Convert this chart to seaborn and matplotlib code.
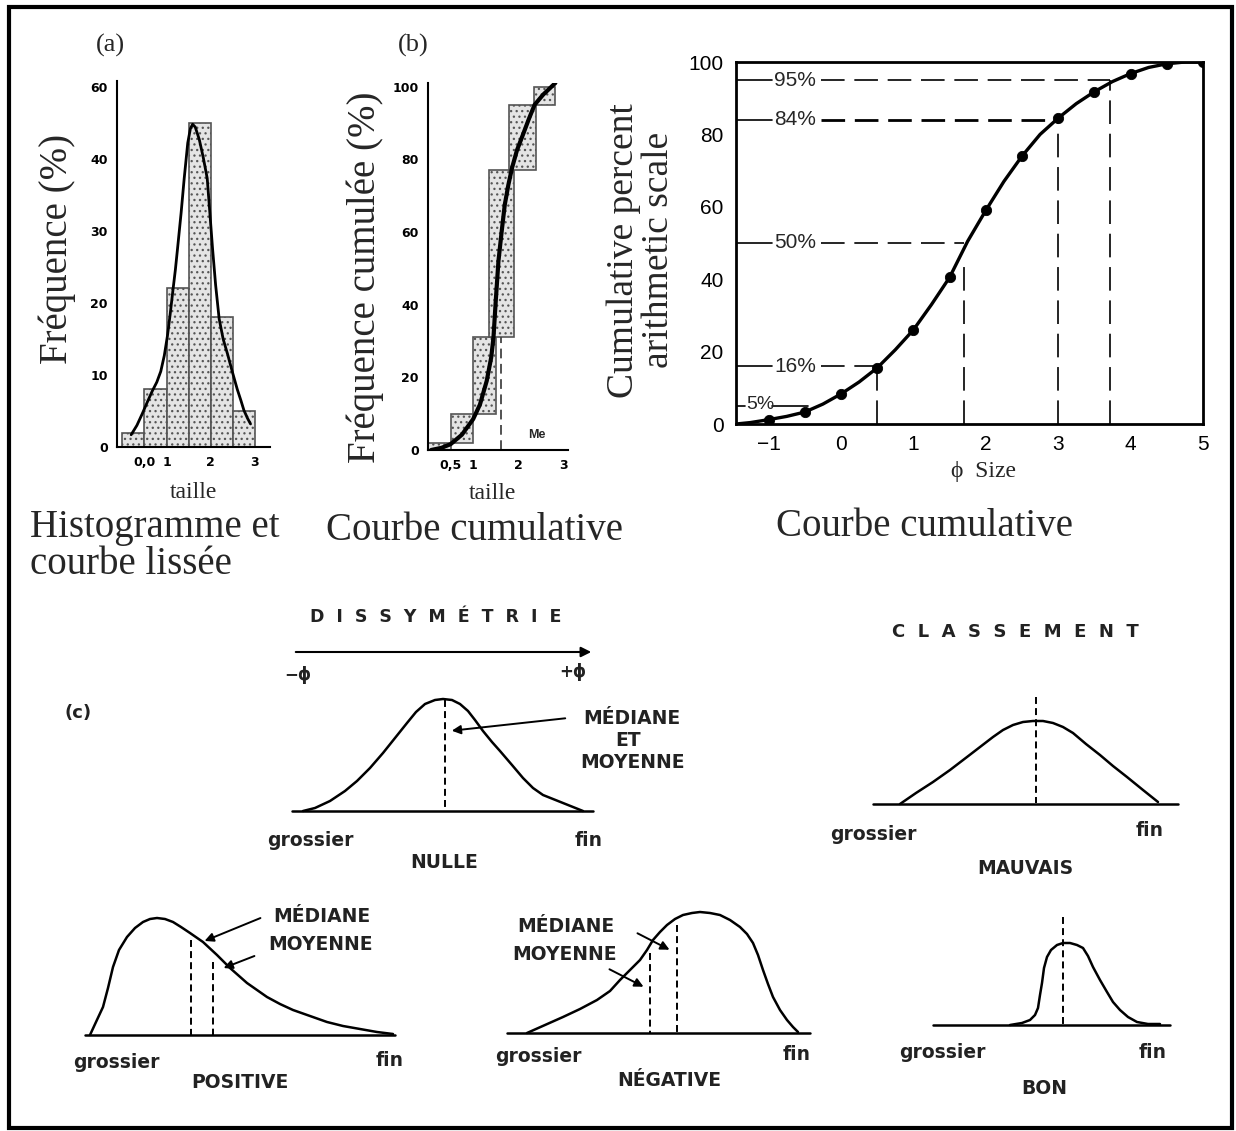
import matplotlib
matplotlib.use("Agg")
import matplotlib.pyplot as plt
from matplotlib.patches import Rectangle
import seaborn as sns
import numpy as np

# ---------------- data ----------------
# (a) histogram + smoothed curve
a_edges = [0, 0.5, 1, 1.5, 2, 2.5, 3]
a_mid = [0.25, 0.75, 1.25, 1.75, 2.25, 2.75]
a_freq = [2, 8, 22, 45, 18, 5]
a_smooth_x = [0.2, 0.33, 0.45, 0.57, 0.68, 0.78, 0.87, 0.95, 1.02, 1.08, 1.14,
              1.2, 1.25, 1.33, 1.4, 1.48, 1.54, 1.59, 1.65, 1.74, 1.83, 1.92,
              1.98, 2.04, 2.11, 2.19, 2.28, 2.38, 2.49, 2.6, 2.68, 2.75, 2.83, 2.9]
a_smooth_y = [1.7, 3.0, 4.6, 6.3, 7.8, 9.0, 10.5, 12.7, 15.4, 18.3, 21.5,
              24.6, 27.6, 32.5, 37.3, 42.2, 44.2, 44.8, 44.4, 42.7, 40.2, 37.3,
              32.5, 27.6, 22.5, 17.8, 15.0, 12.9, 10.4, 8.0, 6.5, 5.1, 4.0, 3.2]
a_ticks = [0.5, 1, 2, 3]
a_ticklabels = ["0,0", "1", "2", "3"]
a_yticks = [0, 10, 20, 30, 40, 50]
a_yticklabels = ["0", "10", "20", "30", "40", "60"]

# (b) cumulative boxes + curve
b_left = [0, 0.5, 1.0, 1.35, 1.8, 2.35]
b_right = [0.5, 1.0, 1.5, 1.9, 2.4, 2.82]
b_low = [0, 2, 10, 31, 77, 95]
b_high = [2, 10, 31, 77, 95, 100]
b_curve_x = [0.07, 0.3, 0.5, 0.75, 1.0, 1.15, 1.3, 1.4, 1.45, 1.5, 1.56, 1.63,
             1.7, 1.78, 1.86, 1.97, 2.1, 2.23, 2.36, 2.55, 2.82]
b_curve_y = [0, 0.6, 1.6, 4.2, 8.5, 12.5, 19, 25.5, 31, 41, 52, 60,
             67.5, 73, 77.6, 82.5, 86.7, 91, 95, 97.8, 101]
b_median = 1.62
b_median_top = 31
b_xticks = [0.5, 1, 1.5, 2, 2.5, 3]
b_xticklabels = ["0,5", "1", "", "2", "", "3"]

# right: cumulative percent vs phi size
phi_x = [-1, -0.5, 0, 0.5, 1, 1.5, 2, 2.5, 3, 3.5, 4, 4.5, 5]
cum_pct = [1.2, 3.3, 8.3, 15.5, 26, 40.5, 59, 74, 84.5, 91.8, 96.8, 99.5, 100]
# the drawn curve, read between the plotted points as well
curve_x = [-1.45, -1.25, -1, -0.75, -0.5, -0.25, 0, 0.25, 0.5, 0.75, 1, 1.25,
           1.5, 1.75, 2, 2.25, 2.5, 2.75, 3, 3.25, 3.5, 3.75, 4, 4.25, 4.5,
           4.75, 5]
curve_y = [0, 0.4, 1.2, 2.1, 3.3, 5.5, 8.3, 11.6, 15.5, 20.5, 26, 33,
           40.5, 50.5, 59, 67, 74, 80, 84.5, 88.5, 91.8, 94.6, 96.8, 98.5, 99.5,
           100, 100]
pct_level = [95, 84, 50, 16, 5]
pct_text = ["95%", "84%", "50%", "16%", "5%"]
pct_phi = [3.72, 3.0, 1.7, 0.5, -0.45]
pct_vtop = [95, 84, 45, 16, None]

# (c) schematic curves (picture pixel coordinates)
nulle_x = [303, 315, 330, 345, 357, 370, 383, 395, 407, 416, 425, 435, 443,
           452, 460, 468, 475, 483, 492, 500, 512, 523, 533, 543, 553, 563, 573, 583]
nulle_y = [811, 808, 801, 791, 781, 768, 753, 738, 723, 712, 704, 700, 699,
           700, 704, 711, 720, 731, 742, 751, 765, 778, 788, 795, 799, 803, 807, 811]
pos_x = [90, 96, 103, 108, 113, 119, 127, 135, 143, 150, 157, 165, 173, 181,
         190, 203, 217, 230, 247, 257, 267, 280, 293, 310, 327, 343, 360, 377, 393]
pos_y = [1035, 1022, 1007, 988, 967, 950, 937, 928, 922, 919, 918, 919, 922, 927,
         933, 942, 955, 968, 983, 990, 997, 1004, 1010, 1016, 1022, 1026, 1029,
         1032, 1034]
neg_x = [527, 545, 563, 580, 597, 610, 620, 630, 640, 647, 653, 660, 667, 675,
         683, 692, 700, 710, 720, 730, 740, 747, 753, 758, 763, 768, 773, 780,
         787, 793, 798]
neg_y = [1033, 1025, 1017, 1009, 1000, 991, 980, 970, 960, 950, 940, 932, 925,
         919, 915, 913, 912, 913, 915, 920, 927, 934, 943, 955, 970, 984, 997,
         1010, 1020, 1027, 1032]
mauv_x = [900, 916, 933, 950, 967, 980, 993, 1003, 1013, 1023, 1033, 1043, 1053,
          1063, 1073, 1086, 1100, 1113, 1127, 1143, 1158]
mauv_y = [804, 793, 782, 770, 757, 747, 737, 730, 725, 722, 721, 721, 723,
          727, 733, 744, 755, 766, 777, 790, 802]
bon_x = [1010, 1022, 1030, 1035, 1038, 1040, 1042, 1044, 1047, 1051, 1057, 1063,
         1070, 1077, 1083, 1088, 1093, 1100, 1107, 1113, 1120, 1128, 1137, 1148, 1160]
bon_y = [1025, 1023, 1020, 1015, 1008, 995, 983, 968, 957, 950, 945, 943,
         943, 945, 948, 956, 967, 980, 992, 1002, 1010, 1017, 1022, 1024, 1024]
# baselines: x0, x1, y
baselines = [(292, 593, 811), (85, 395, 1035), (507, 810, 1033),
             (873, 1178, 804), (933, 1170, 1025)]
# median / mean dashed lines: x, top, bottom
medians = [(445, 700, 811), (191, 940, 1035), (213, 962, 1035),
           (650, 953, 1033), (677, 925, 1033), (1036, 697, 803), (1063, 917, 1026)]

SERIF = ["Liberation Serif", "DejaVu Serif"]
SANS = ["Liberation Sans", "DejaVu Sans"]

sns.set_style("white")
plt.rcParams["font.family"] = SANS
plt.rcParams["lines.scale_dashes"] = False
plt.rcParams["hatch.linewidth"] = 0.9
plt.rcParams["hatch.color"] = "#555555"

fig = plt.figure(figsize=(12.36, 11.31), dpi=100)

# background canvas for frame, captions and schematic (c)
bg = fig.add_axes([0, 0, 1, 1])
bg.set_facecolor("none")

W, H = 1236, 1131


def rect(x0, y0, x1, y1):
    return [x0 / W, 1 - y1 / H, (x1 - x0) / W, (y1 - y0) / H]


# ---------------- panel (a) ----------------
ax_a = fig.add_axes(rect(117, 81, 270, 447))
ax_a.set_facecolor("none")
sns.histplot(x=a_mid, weights=a_freq, bins=a_edges, ax=ax_a, color="#e4e4e4",
             edgecolor="#555555", linewidth=1.2, hatch="...", alpha=1)
sns.lineplot(x=a_smooth_x, y=a_smooth_y, ax=ax_a, color="black", lw=2,
             sort=False, estimator=None)
ax_a.set_xlim(-0.12, 3.34)
ax_a.set_ylim(0, 50.8)
ax_a.set_xticks(a_ticks, a_ticklabels)
ax_a.set_yticks(a_yticks, a_yticklabels)
ax_a.set_xlabel("taille", family=SERIF, fontsize=17, va="center")
ax_a.xaxis.set_label_coords(0.5, -0.125)
ax_a.set_ylabel("Fréquence (%)", family=SERIF, fontsize=28, va="center")
ax_a.yaxis.set_label_coords(-0.39, 0.54)

# ---------------- panel (b) ----------------
ax_b = fig.add_axes(rect(428, 83, 568, 450))
ax_b.set_facecolor("none")
ax_b.bar(b_left, np.subtract(b_high, b_low), width=np.subtract(b_right, b_left),
         bottom=b_low, align="edge", color="#e4e4e4", edgecolor="#555555",
         linewidth=1.2, hatch="...")
sns.lineplot(x=b_curve_x, y=b_curve_y, ax=ax_b, color="black", lw=3,
             sort=False, estimator=None)
ax_b.plot([b_median, b_median], [0, b_median_top], color="#444444", lw=1.3,
          ls=(0, (7, 4)))
ax_b.text(2.4, 4, "Me", fontsize=9, fontweight="bold", ha="center", va="center")
ax_b.set_xlim(0, 3.1)
ax_b.set_ylim(0, 101)
ax_b.set_xticks(b_xticks, b_xticklabels)
ax_b.set_yticks([0, 20, 40, 60, 80, 100])
ax_b.set_xlabel("taille", family=SERIF, fontsize=17, va="center")
ax_b.xaxis.set_label_coords(0.46, -0.118)
ax_b.set_ylabel("Fréquence cumulée (%)", family=SERIF, fontsize=28, va="center")
ax_b.yaxis.set_label_coords(-0.45, 0.47)

for ax in (ax_a, ax_b):
    sns.despine(ax=ax)
    for s in ("left", "bottom"):
        ax.spines[s].set_color("black")
        ax.spines[s].set_linewidth(1.5)
    ax.tick_params(direction="inout", length=7, width=1.2, labelsize=9, pad=3,
                   colors="black")
    for lab in ax.get_xticklabels() + ax.get_yticklabels():
        lab.set_fontweight("bold")
        lab.set_family(["DejaVu Sans"])

# ---------------- right panel ----------------
ax_c = fig.add_axes(rect(736, 62, 1203, 424))
ax_c.set_facecolor("none")
sns.lineplot(x=curve_x, y=curve_y, ax=ax_c, color="black", lw=2.4,
             sort=False, estimator=None)
sns.scatterplot(x=phi_x, y=cum_pct, ax=ax_c, color="black", s=55, zorder=5,
                edgecolor="black")
dash = (0, (17, 7))
for lev, txt, ph, top in zip(pct_level, pct_text, pct_phi, pct_vtop):
    lw = 2.0 if lev == 84 else 1.2
    if lev == 5:
        ax_c.plot([-1.45, -1.33], [lev, lev], color="black", lw=1.2)
        ax_c.text(-1.31, lev + 0.5, txt, fontsize=14, ha="left", va="center")
        ax_c.plot([-0.95, ph], [lev, lev], color="black", lw=1.2)
        continue
    ax_c.plot([-1.45, -0.95], [lev, lev], color="black", lw=1.2)
    ax_c.text(-0.92, lev, txt, fontsize=15, ha="left", va="center")
    ax_c.plot([-0.28, ph], [lev, lev], color="black", lw=lw, ls=dash)
    if top is not None:
        ax_c.plot([ph, ph], [0, top], color="black", lw=1.2, ls=dash)
ax_c.set_xlim(-1.45, 5)
ax_c.set_ylim(0, 100)
ax_c.set_xticks([-1, 0, 1, 2, 3, 4, 5])
ax_c.set_xticks(np.arange(-1, 5.01, 0.5), minor=True)
ax_c.set_yticks([0, 20, 40, 60, 80, 100])
ax_c.set_yticks([10, 30, 50, 70, 90], minor=True)
ax_c.tick_params(which="both", direction="in", length=13, width=1.3,
                 labelsize=15, colors="black")
ax_c.tick_params(axis="y", pad=9)
ax_c.tick_params(axis="x", pad=8)
for s in ax_c.spines.values():
    s.set_color("black")
    s.set_linewidth(2)
ax_c.set_xlabel("ϕ  Size", family=SERIF, fontsize=17, va="center")
ax_c.xaxis.set_label_coords(0.53, -0.13)
ax_c.set_ylabel("Cumulative percent\narithmetic scale", family=SERIF,
                fontsize=27, va="center", linespacing=1.0)
ax_c.yaxis.set_label_coords(-0.203, 0.48)

# ---------------- background: frame, captions, schematic (c) ----------------
bg.add_patch(Rectangle((9, 7), 1223, 1121, fill=False, lw=3, ec="black"))
bg.text(110, 45, "(a)", family=SERIF, fontsize=19, ha="center", va="center")
bg.text(413, 45, "(b)", family=SERIF, fontsize=19, ha="center", va="center")
bg.text(30, 546, "Histogramme et\ncourbe lissée", family=SERIF, fontsize=28,
        ha="left", va="center", linespacing=1.0)
bg.text(475, 530, "Courbe cumulative", family=SERIF, fontsize=28, ha="center",
        va="center")
bg.text(925, 527, "Courbe cumulative", family=SERIF, fontsize=28, ha="center",
        va="center")

for cx, cy in [(nulle_x, nulle_y), (pos_x, pos_y), (neg_x, neg_y),
               (mauv_x, mauv_y), (bon_x, bon_y)]:
    sns.lineplot(x=cx, y=cy, ax=bg, color="black", lw=1.8, sort=False,
                 estimator=None)
for x0, x1, y in baselines:
    bg.plot([x0, x1], [y, y], color="black", lw=1.8)
for x, t, b in medians:
    bg.plot([x, x], [t, b], color="black", lw=1.4, ls=(0, (5, 3)))

sans_kw = dict(family=["DejaVu Sans"], fontweight="bold", color="#222222")
bg.text(436, 617, "D  I  S  S  Y  M  É  T  R  I  E", fontsize=12.5, ha="center",
        va="center", **sans_kw)
bg.text(1015, 632, "C  L  A  S  S  E  M  E  N  T", fontsize=13, ha="center",
        va="center", **sans_kw)
bg.annotate("", xy=(594, 652), xytext=(293, 652),
            arrowprops=dict(arrowstyle="-|>", color="black", lw=1.5,
                            mutation_scale=15))
bg.text(298, 675, "−ϕ", fontsize=12, ha="center", va="center", **sans_kw)
bg.text(573, 672, "+ϕ", fontsize=12, ha="center", va="center", **sans_kw)
bg.text(78, 713, "(c)", fontsize=13, ha="center", va="center", **sans_kw)

labels_c = [
    (632, 718, "MÉDIANE"), (628, 741, "ET"), (632, 763, "MOYENNE"),
    (310, 840, "grossier"), (589, 840, "fin"), (444, 862, "NULLE"),
    (322, 917, "MÉDIANE"), (320, 945, "MOYENNE"),
    (116, 1062, "grossier"), (390, 1060, "fin"), (240, 1082, "POSITIVE"),
    (566, 927, "MÉDIANE"), (564, 955, "MOYENNE"),
    (538, 1057, "grossier"), (797, 1055, "fin"), (669, 1080, "NÉGATIVE"),
    (873, 835, "grossier"), (1150, 830, "fin"), (1025, 868, "MAUVAIS"),
    (942, 1053, "grossier"), (1153, 1052, "fin"), (1044, 1088, "BON"),
]
for x, y, t in labels_c:
    bg.text(x, y, t, fontsize=13.5, ha="center", va="center", **sans_kw)

arrows_c = [((568, 718), (449, 731)), ((263, 917), (202, 942)),
            ((257, 955), (221, 969)), ((635, 932), (672, 951)),
            ((607, 968), (646, 988))]
for start, end in arrows_c:
    bg.annotate("", xy=end, xytext=start,
                arrowprops=dict(arrowstyle="-|>", color="black", lw=1.4,
                                mutation_scale=13))

bg.set_xlim(0, W)
bg.set_ylim(H, 0)
bg.axis("off")

fig.savefig("out.png", dpi=100)
plt.close(fig)
